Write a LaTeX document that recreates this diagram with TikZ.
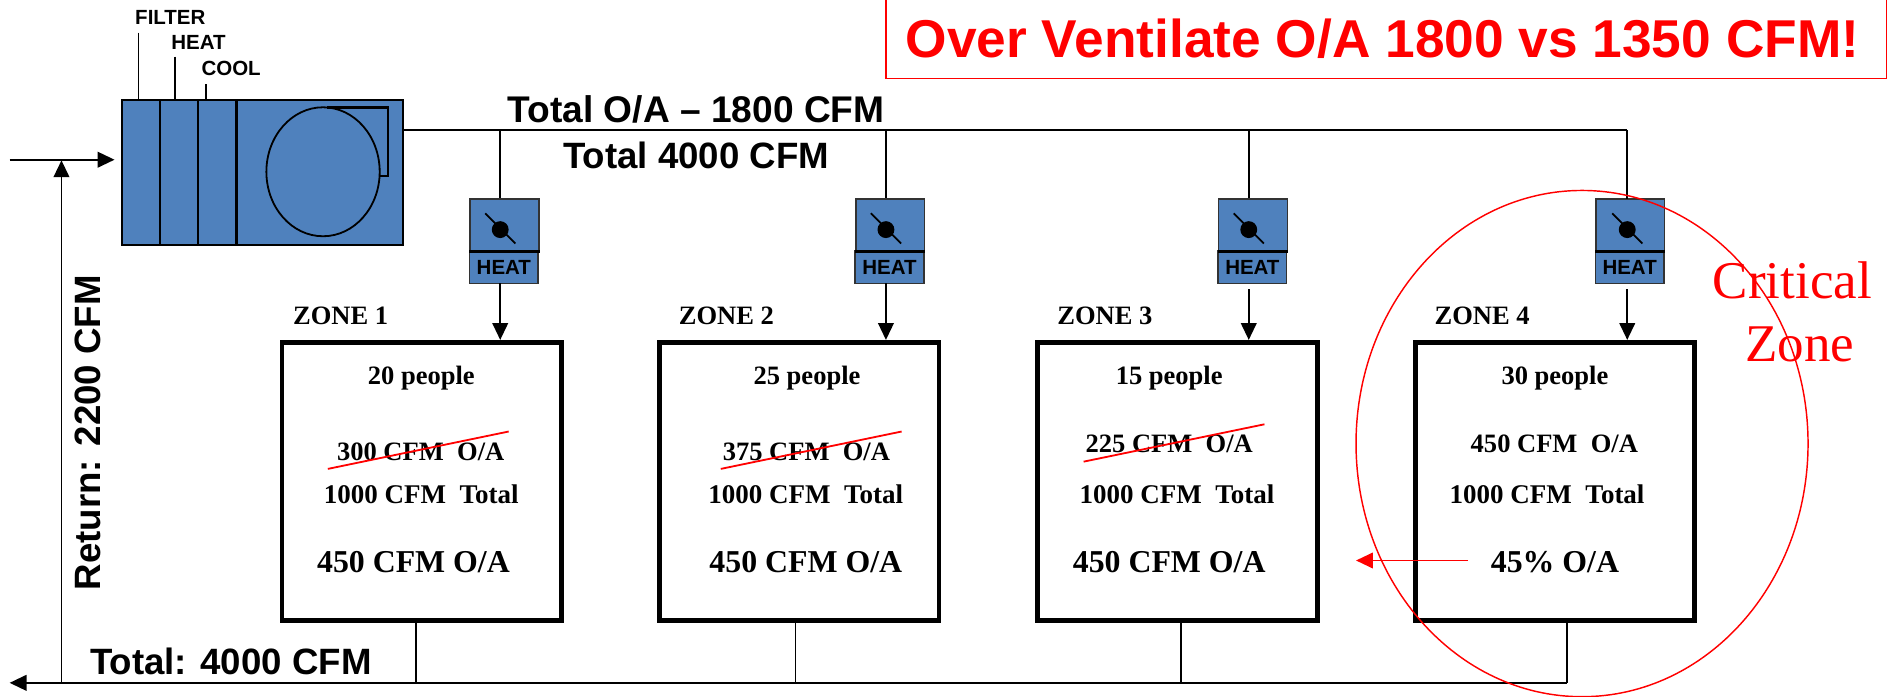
\documentclass[tikz,border=0pt]{standalone}
\usepackage{fontspec}
\setmainfont{Liberation Serif}
\setsansfont{Liberation Sans}
\usetikzlibrary{arrows.meta,shapes.geometric}
\definecolor{ahublue}{RGB}{79,129,189}
\tikzset{
  sf/.style={font=\sffamily\bfseries\fontsize{#1}{#1}\selectfont,inner sep=0pt},
  rm/.style={font=\rmfamily\bfseries\fontsize{#1}{#1}\selectfont,inner sep=0pt},
  duct/.style={line width=2pt,black},
  thinduct/.style={line width=1.5pt,black},
  flow/.style={line width=1.5pt,black,-{Triangle[length=14pt,width=13pt]}},
  zonebox/.style={draw=black,line width=4pt,fill=white,minimum width=232pt,minimum height=231pt,inner sep=0pt},
  dampertop/.style={draw=black!80,line width=1.2pt,fill=ahublue,minimum width=57pt,minimum height=43pt,inner sep=0pt},
  damperlow/.style={draw=black!80,line width=1.2pt,fill=ahublue,minimum width=57pt,minimum height=27pt,inner sep=0pt,sf=17},
  redline/.style={red,line width=1.3pt},
}
\begin{document}
\begin{tikzpicture}[x=1pt,y=-1pt]
\useasboundingbox (0,0) rectangle (1568,578.2);
% title
\node[draw=red,line width=1.4pt,minimum width=830pt,minimum height=66pt,inner sep=0pt,text=red,sf=44.2] (title) at (1150,32) {\raisebox{1pt}{Over Ventilate O/A 1800 vs 1350 CFM!}\kern6pt};
% air handler
\node[draw=black,line width=1.8pt,fill=ahublue,minimum width=233pt,minimum height=120pt,inner sep=0pt] (ahu) at (217.5,143) {};
\coordinate (d1t) at (133,83); \coordinate (d1b) at (133,203);
\coordinate (d2t) at (164,83); \coordinate (d2b) at (164,203);
\coordinate (d3t) at (196,83); \coordinate (d3b) at (196,203);
\draw[line width=1.6pt] (d1t)--(d1b);
\draw[line width=1.6pt] (d2t)--(d2b);
\draw[line width=2.2pt] (d3t)--(d3b);
\node[draw=black,line width=1.5pt,ellipse,minimum width=94pt,minimum height=107pt,inner sep=0pt] (fan) at (268,142.5) {};
\coordinate (fh1) at (271,89.3);
\coordinate (fh2) at (322,89.3);
\coordinate (fh3) at (322,146);
\coordinate (fh4) at (315,146);
\draw[line width=2.2pt] (fh1)--(fh2)--(fh3)--(fh4);
% component labels
\node[sf=17,anchor=west] (lf) at (112,14.5) {FILTER};
\node[sf=17,anchor=west] (lh) at (142,35.5) {HEAT};
\node[sf=17,anchor=west] (lc) at (167,57) {COOL};
\coordinate (lfa) at (115,27); \coordinate (lfb) at (115,83);
\coordinate (lha) at (145,47); \coordinate (lhb) at (145,83);
\coordinate (lca) at (171,70); \coordinate (lcb) at (171,83);
\draw[line width=1.3pt] (lfa)--(lfb);
\draw[line width=1.3pt] (lha)--(lhb);
\draw[line width=1.3pt] (lca)--(lcb);
% inlet & return
\coordinate (inl) at (8,132.5);
\coordinate (inr) at (95,132.5);
\coordinate (rb) at (51,566.5);
\coordinate (rt) at (51,133);
\coordinate (re) at (1300,566.5);
\coordinate (rl) at (8,566.5);
\draw[flow] (inl)--(inr);
\draw[flow] (rb)--(rt);
\draw[flow] (re)--(rl);
% main duct
\coordinate (m1) at (415,108); \coordinate (m2) at (735,108);
\coordinate (m3) at (1036,108); \coordinate (m4) at (1350,108);
\draw[duct] (ahu.east|-m1)--(m4);
% dampers
\foreach \n/\bx/\dx in {1/418.5/415,2/738.5/735,3/1039.5/1036,4/1352.5/1350}{
  \draw[thinduct] (\dx,108)--(\dx,165);
  \node[dampertop] (dt\n) at (\bx,186.5) {};
  \node[damperlow] (dl\n) at (\bx-0.5,221.5) {HEAT};
  \draw[line width=2pt] (dt\n.south west)--(dt\n.south east);
  \fill (\dx,190.5) circle (7pt);
  \draw[line width=1.5pt] (\dx-12.5,177)--(\dx+12.5,202);
}
\draw[duct] (m4)--(1350,165);
% zones
\node[zonebox] (z1) at (350,399.5) {};
\node[zonebox] (z2) at (663,399.5) {};
\node[zonebox] (z3) at (977,399.5) {};
\node[zonebox] (z4) at (1290,399.5) {};
\coordinate (a1) at (415,235); \coordinate (a2) at (735,235);
\coordinate (a3) at (1036,240); \coordinate (a4) at (1350,240);
\draw[flow] (a1)--(a1|-z1.north);
\draw[flow] (a2)--(a2|-z2.north);
\draw[flow] (a3)--(a3|-z3.north);
\draw[flow] (a4)--(a4|-z4.north);
\coordinate (b1) at (345,566.5); \coordinate (b2) at (660,566.5);
\coordinate (b3) at (980,566.5);
\draw[thinduct] (b1|-z1.south)--(b1);
\draw[thinduct] (b2|-z2.south)--(b2);
\draw[thinduct] (b3|-z3.south)--(b3);
\draw[thinduct] (re|-z4.south)--(re);
% zone titles
\node[rm=22,anchor=west] (zt1) at (243,262) {ZONE 1};
\node[rm=22,anchor=west] (zt2) at (563,262) {ZONE 2};
\node[rm=22,anchor=west] (zt3) at (877,262) {ZONE 3};
\node[rm=22,anchor=west] (zt4) at (1190,262) {ZONE 4};
\node[rm=22] (p1) at (349.5,314) {20 people};
\node[rm=22] (p2) at (669.5,314) {25 people};
\node[rm=22] (p3) at (970,314) {15 people};
\node[rm=22] (p4) at (1290,314) {30 people};
\node[rm=22] (o1) at (349,374.5) {300 CFM\ \ O/A};
\node[rm=22] (o2) at (669,374.5) {375 CFM\ \ O/A};
\node[rm=22] (o3) at (970,368.5) {225 CFM\ \ O/A};
\node[rm=22] (o4) at (1289.5,368.5) {450 CFM\ \ O/A};
\node[rm=22.4] (t1) at (349.5,410) {1000 CFM\ \ Total};
\node[rm=22.4] (t2) at (668.5,410) {1000 CFM\ \ Total};
\node[rm=22.4] (t3) at (976.5,410) {1000 CFM\ \ Total};
\node[rm=22.4] (t4) at (1283.5,410) {1000 CFM\ \ Total};
\node[rm=26.4] (v1) at (343,466.5) {450 CFM O/A};
\node[rm=26.4] (v2) at (668.5,466.5) {450 CFM O/A};
\node[rm=26.4] (v3) at (970,466.5) {450 CFM O/A};
\node[rm=26.4] (v4) at (1290,466.5) {45\% O/A};
% strikes
\coordinate (s1a) at (272,389); \coordinate (s1b) at (422,358);
\coordinate (s2a) at (598,389); \coordinate (s2b) at (748,358);
\coordinate (s3a) at (899,383); \coordinate (s3b) at (1049,352);
\draw[redline,line width=1.5pt] (s1a)--(s1b);
\draw[redline,line width=1.5pt] (s2a)--(s2b);
\draw[redline,line width=1.5pt] (s3a)--(s3b);
% critical
\node[draw=red,line width=1.2pt,ellipse,minimum width=375pt,minimum height=420pt,inner sep=0pt] (crit) at (1312.5,368) {};
\coordinate (ra) at (1218,465); \coordinate (rc) at (1125,465);
\draw[red,line width=1.4pt,-{Triangle[length=14pt,width=13pt]}] (ra)--(rc);
\node[text=red,font=\rmfamily\fontsize{44}{44}\selectfont,inner sep=0pt] (cz1) at (1487,233) {Critical};
\node[text=red,font=\rmfamily\fontsize{44}{44}\selectfont,inner sep=0pt] (cz2) at (1493,286) {Zone};
% flows
\node[sf=30.8] (f1) at (577.5,91) {Total O/A -- 1800 CFM};
\node[sf=30.4] (f2) at (577.5,129) {Total 4000 CFM};
\node[sf=30.4,rotate=90] (f3) at (73,359) {Return: 2200 CFM};
\node[sf=30.4] (f4) at (191.5,549) {Total: 4000 CFM};
\end{tikzpicture}
\end{document}
